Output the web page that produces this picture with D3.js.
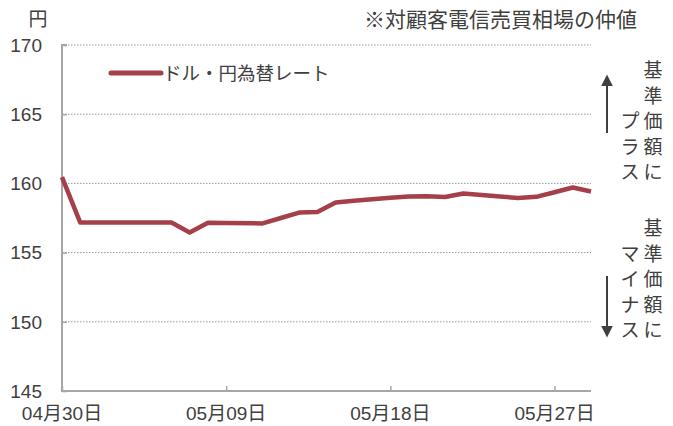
<!DOCTYPE html>
<html>
<head>
<meta charset="utf-8">
<script src="https://cdn.jsdelivr.net/npm/d3@7"></script>
<style>
  body { margin: 0; background: #fff; }
  svg text { font-family: "Liberation Sans", Arial, "Noto Sans CJK JP", sans-serif; fill: #404040; }
</style>
</head>
<body>
<div id="chart"></div>
<script>
// data
var dates = ["2025-04-30","2025-05-01","2025-05-02","2025-05-06","2025-05-07","2025-05-08","2025-05-09",
  "2025-05-11","2025-05-12","2025-05-13","2025-05-14","2025-05-15","2025-05-16","2025-05-17","2025-05-18",
  "2025-05-19","2025-05-20","2025-05-21","2025-05-22","2025-05-23","2025-05-24","2025-05-25","2025-05-26",
  "2025-05-27","2025-05-28","2025-05-29"]
var rates = [160.45,157.17,157.17,157.17,156.45,157.15,157.13,
  157.11,157.5,157.89,157.93,158.62,158.74,158.86,158.97,
  159.05,159.08,159.02,159.27,159.17,159.05,158.95,159.03,
  159.36,159.7,159.42]
var yTicks = [145,150,155,160,165,170]
var xTicks = ["2025-04-30","2025-05-09","2025-05-18","2025-05-27"]
var seriesName = "ドル・円為替レート"

var W = 673, H = 426
var margin = {left: 62, right: 82, top: 45, bottom: 35}

var parse = d3.timeParse("%Y-%m-%d")
var data = dates.map(function (d, i) { return {date: parse(d), value: rates[i]} })

var svg = d3.select("#chart").append("svg")
  .attr("width", W)
  .attr("height", H)

var x = d3.scaleTime()
  .domain([parse("2025-04-30"), parse("2025-05-29")])
  .range([margin.left, W - margin.right])

var y = d3.scaleLinear()
  .domain([145, 170])
  .range([H - margin.bottom, margin.top])

// gridlines
svg.append("g")
  .selectAll("line")
  .data(yTicks.slice(1))
  .join("line")
  .attr("x1", x.range()[0])
  .attr("x2", x.range()[1])
  .attr("y1", d => y(d))
  .attr("y2", d => y(d))
  .attr("stroke", "#999")
  .attr("stroke-width", 1)
  .attr("stroke-dasharray", "1.5,1.5")

// y axis
var yAxis = svg.append("g")
  .attr("transform", `translate(${margin.left},0)`)
  .call(d3.axisRight(y).tickValues(yTicks).tickSize(5).tickFormat(""))
yAxis.select(".domain").attr("stroke", "#a6a6a6").attr("stroke-width", 2)
  .attr("d", `M5,${y(170)}H0V${y(145)}H5`)
yAxis.selectAll(".tick line").attr("stroke", "#a6a6a6").attr("stroke-width", 1.5)

svg.append("g")
  .selectAll("text")
  .data(yTicks)
  .join("text")
  .attr("x", 42)
  .attr("y", d => y(d))
  .attr("dy", "0.36em")
  .attr("text-anchor", "end")
  .attr("font-size", 19)
  .text(d => d)

// x axis
var xAxis = svg.append("g")
  .attr("transform", `translate(0,${y(145)})`)
  .call(d3.axisTop(x).tickValues(xTicks.map(parse)).tickSize(5).tickFormat(""))
xAxis.select(".domain").attr("stroke", "#a6a6a6").attr("stroke-width", 2)
  .attr("d", `M${x.range()[0]},0H${x.range()[1]}`)
xAxis.selectAll(".tick line").attr("stroke", "#a6a6a6").attr("stroke-width", 1.5)

svg.append("g")
  .selectAll("text")
  .data(xTicks)
  .join("text")
  .attr("x", d => x(parse(d)))
  .attr("y", 420)
  .attr("text-anchor", "middle")
  .attr("font-size", 19)
  .text(d => d3.timeFormat("%m月%d日")(parse(d)))

// line
svg.append("path")
  .datum(data)
  .attr("fill", "none")
  .attr("stroke", "#a5404a")
  .attr("stroke-width", 4.5)
  .attr("stroke-linejoin", "round")
  .attr("d", d3.line().x(d => x(d.date)).y(d => y(d.value)))

// titles
svg.append("text").attr("x", 38).attr("y", 26).attr("text-anchor", "middle")
  .attr("font-size", 19).text("円")
svg.append("text").attr("x", 637).attr("y", 27).attr("text-anchor", "end")
  .attr("font-size", 21).text("※対顧客電信売買相場の仲値")

// legend
svg.append("line").attr("x1", 111).attr("x2", 161).attr("y1", 73).attr("y2", 73)
  .attr("stroke", "#a5404a").attr("stroke-width", 5).attr("stroke-linecap", "round")
svg.append("text").attr("x", 163).attr("y", 80).attr("font-size", 18.5).text(seriesName)

// side notes
var vtext = function (str, cx, bottom) {
  var chars = str.split("")
  svg.append("g").selectAll("text")
    .data(chars)
    .join("text")
    .attr("x", cx)
    .attr("y", (d, i) => bottom - (chars.length - 1 - i) * 25.5 + 7)
    .attr("text-anchor", "middle")
    .attr("font-size", 19)
    .text(d => d)
}
vtext("基準価額に", 653, 172)
vtext("プラス", 630, 172)
vtext("基準価額に", 653, 330)
vtext("マイナス", 630, 330)

svg.append("defs").append("marker")
  .attr("id", "tri")
  .attr("viewBox", "0 0 10 10")
  .attr("refX", 2).attr("refY", 5)
  .attr("markerWidth", 6).attr("markerHeight", 6)
  .attr("orient", "auto")
  .append("path").attr("d", "M0,0L10,5L0,10Z").attr("fill", "#404040")

svg.append("line").attr("x1", 607).attr("x2", 607).attr("y1", 133).attr("y2", 84)
  .attr("stroke", "#404040").attr("stroke-width", 2).attr("marker-end", "url(#tri)")
svg.append("line").attr("x1", 607).attr("x2", 607).attr("y1", 276).attr("y2", 328)
  .attr("stroke", "#404040").attr("stroke-width", 2).attr("marker-end", "url(#tri)")
</script>
</body>
</html>
